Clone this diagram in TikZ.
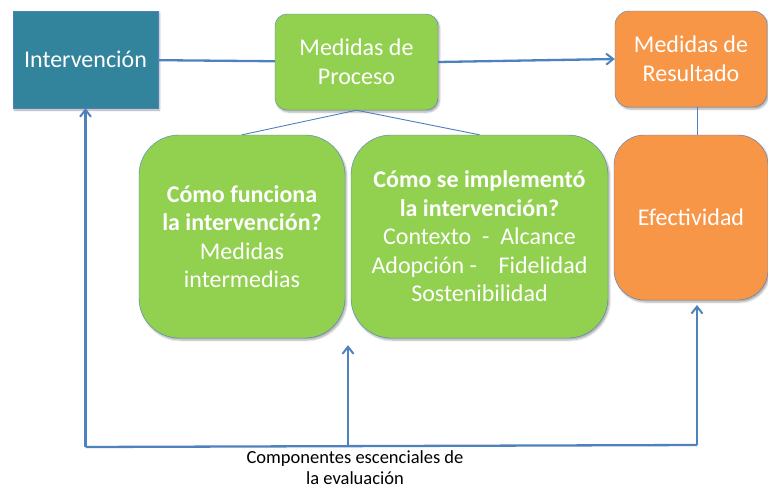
\documentclass[tikz,border=0pt]{standalone}
\usepackage{fontspec}
\setmainfont{Carlito}
\usetikzlibrary{arrows.meta}
\usetikzlibrary{shadows, shadows.blur}
\usetikzlibrary{positioning, calc}
\definecolor{tealbox}{HTML}{31849B}
\definecolor{greenbox}{HTML}{92D050}
\definecolor{orangebox}{HTML}{F79646}
\definecolor{linkblue}{HTML}{4F81BD}
\tikzset{
    boxG/.style args={#1 #2}{
        draw=linkblue, fill=#1, rounded corners=#2, text=white, align=center,
        font=\fontsize{24}{28.5}\selectfont, inner sep=2pt,
        blur shadow={shadow xshift=1.5pt, shadow yshift=-2pt, shadow blur steps=4, shadow opacity=35}
    },
    boxG/.default={greenbox 12pt},
    linkU/.style={draw=linkblue, line width=2.3pt},
    linkT/.style={draw=linkblue, line width=0.9pt},
    tipU/.style={-{Straight Barb[length=7pt, width=11pt, line width=2pt]}}
}

\begin{document}
\begin{tikzpicture}[x=1pt, y=-1pt]
    \useasboundingbox (0,0) rectangle (768,490);
    % top row
    \node[boxG={tealbox 0pt}, minimum width=145pt, minimum height=97pt] (int) at (85.5,59.5) {Intervención};
    \node[boxG={greenbox 12pt}, minimum width=163pt, minimum height=96pt] (proc) at (356.5,62) {Medidas de\\Proceso};
    \node[boxG={orangebox 14pt}, minimum width=152pt, minimum height=96pt] (res) at (691,59) {Medidas de\\Resultado};
    % second row
    \node[boxG={greenbox 40pt}, minimum width=206pt, minimum height=203pt] (func) at (242,236.5)
        {\textbf{Cómo funciona}\\\textbf{la intervención?}\\Medidas\\intermedias};
    \node[boxG={greenbox 40pt}, minimum width=257pt, minimum height=203pt] (impl) at (479.5,236.5)
        {\textbf{Cómo se implementó}\\\textbf{la intervención?}\\Contexto~~-~~Alcance\\Adopción -~~~~Fidelidad\\Sostenibilidad};
    \node[boxG={orangebox 30pt}, minimum width=154pt, minimum height=165pt] (efe) at (691,217.5) {Efectividad};
    % caption
    \node[align=center, font=\fontsize{18.5}{21}\selectfont, inner sep=0pt] (cap) at (355,468)
        {Componentes escenciales de\\la evaluación};
    % bottom frame
    \coordinate (b1) at (int.south |- 0,447);
    \coordinate (b3) at (697,445);
    \coordinate (e1) at (697,305);
    \coordinate (g1) at ($(func.south east)!0.5!(impl.south west) + (0,7)$);
    \coordinate (b2) at (g1 |- 0,446);
    % connectors
    \draw[linkU] (int) -- (proc);
    \draw[linkU, tipU] (proc.east) -- (res.west);
    \draw[linkT] (proc.south) -- (func.north);
    \draw[linkT] (proc.south) -- (impl.north);
    \draw[linkT] (res.south -| b3) -- (efe.north -| b3);
    \draw[linkU] (b1) -- (b3);
    \draw[linkU, tipU] (b1) -- (int.south);
    \draw[linkU, tipU] (b2) -- (g1);
    \draw[linkU, tipU] (b3) -- (e1);
\end{tikzpicture}
\end{document}
